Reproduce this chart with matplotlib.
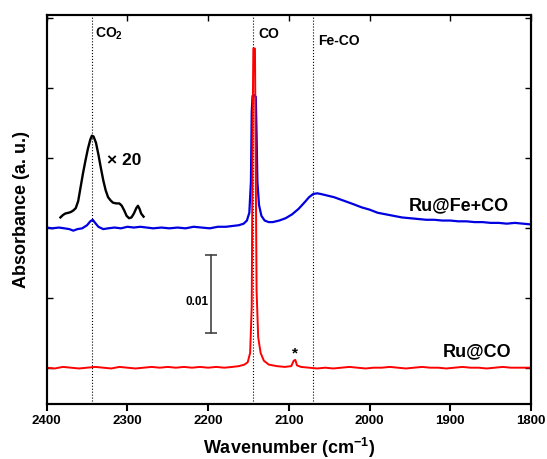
import matplotlib
matplotlib.use("Agg")
import matplotlib.pyplot as plt
from matplotlib.ticker import MultipleLocator

plt.rcParams['font.family'] = ['Liberation Sans', 'DejaVu Sans']
plt.rcParams['font.weight'] = 'bold'
plt.rcParams['axes.labelweight'] = 'bold'
plt.rcParams['mathtext.fontset'] = 'custom'
plt.rcParams['mathtext.rm'] = 'Liberation Sans:bold'
plt.rcParams['mathtext.bf'] = 'Liberation Sans:bold'
plt.rcParams['mathtext.default'] = 'bf'

# Ru@Fe+CO spectrum (offset)
fe_wn = [2400, 2393, 2385, 2378, 2372, 2367, 2362, 2356, 2350, 2346, 2343, 2340,
         2336, 2330, 2324, 2316, 2308, 2300, 2292, 2284, 2276, 2268, 2258, 2248,
         2238, 2228, 2218, 2208, 2198, 2188, 2178, 2170, 2162, 2156, 2152, 2149,
         2147, 2146, 2145, 2143, 2141, 2140, 2139, 2137, 2134, 2130, 2125, 2120,
         2112, 2104, 2096, 2088, 2080, 2075, 2070, 2065, 2060, 2052, 2044, 2036,
         2028, 2020, 2010, 2000, 1990, 1980, 1970, 1960, 1950, 1940, 1930, 1920,
         1910, 1900, 1890, 1880, 1870, 1860, 1850, 1840, 1830, 1820, 1810, 1800]
fe_abs = [0.0181, 0.0180, 0.0181, 0.0180, 0.0179, 0.0177, 0.0179, 0.0180, 0.0184,
          0.0189, 0.0191, 0.0187, 0.0182, 0.0179, 0.0180, 0.0181, 0.0180, 0.0182,
          0.0181, 0.0182, 0.0181, 0.0180, 0.0181, 0.0180, 0.0181, 0.0180, 0.0182,
          0.0181, 0.0180, 0.0182, 0.0182, 0.0183, 0.0184, 0.0186, 0.0190, 0.0200,
          0.0240, 0.0330, 0.0350, 0.0351, 0.0349, 0.0300, 0.0240, 0.0210, 0.0196,
          0.0190, 0.0188, 0.0188, 0.0190, 0.0193, 0.0198, 0.0205, 0.0214, 0.0220,
          0.0224, 0.0225, 0.0224, 0.0222, 0.0220, 0.0217, 0.0214, 0.0211, 0.0207,
          0.0204, 0.0200, 0.0198, 0.0196, 0.0194, 0.0193, 0.0192, 0.0191, 0.0191,
          0.0190, 0.0190, 0.0189, 0.0189, 0.0188, 0.0188, 0.0187, 0.0187, 0.0186,
          0.0187, 0.0186, 0.0185]

# CO2 region x20
zoom_wn = [2383, 2380, 2377, 2373, 2370, 2367, 2364, 2361, 2358, 2355, 2352, 2349,
           2346, 2344, 2342, 2339, 2336, 2333, 2330, 2327, 2324, 2321, 2318, 2314,
           2310, 2307, 2304, 2301, 2298, 2295, 2292, 2289, 2287, 2285, 2283, 2280]
zoom_abs = [0.0194, 0.0197, 0.0199, 0.0200, 0.0201, 0.0203, 0.0206, 0.0215, 0.0233,
            0.0251, 0.0267, 0.0282, 0.0294, 0.0299, 0.0298, 0.0290, 0.0275, 0.0258,
            0.0242, 0.0229, 0.0220, 0.0216, 0.0213, 0.0212, 0.0212, 0.0209, 0.0203,
            0.0196, 0.0193, 0.0194, 0.0199, 0.0206, 0.0209, 0.0205, 0.0199, 0.0195]

# Ru@CO spectrum
ru_wn = [2400, 2390, 2380, 2370, 2360, 2350, 2340, 2330, 2320, 2310, 2300, 2290,
         2280, 2270, 2260, 2250, 2240, 2230, 2220, 2210, 2200, 2190, 2180, 2170,
         2162, 2155, 2151, 2148, 2146, 2145, 2144, 2142, 2141, 2140, 2138, 2135,
         2131, 2125, 2115, 2105, 2097, 2094, 2092, 2090, 2085, 2075, 2065, 2055,
         2045, 2035, 2025, 2015, 2005, 1995, 1985, 1975, 1965, 1955, 1945, 1935,
         1925, 1915, 1905, 1895, 1885, 1875, 1865, 1855, 1845, 1835, 1825, 1815, 1800]
ru_abs = [0.0001, 0.0000, 0.0002, 0.0001, 0.0000, 0.0001, 0.0002, 0.0001, 0.0000,
          0.0002, 0.0001, 0.0000, 0.0001, 0.0002, 0.0001, 0.0002, 0.0001, 0.0002,
          0.0001, 0.0002, 0.0001, 0.0002, 0.0001, 0.0002, 0.0003, 0.0005, 0.0008,
          0.0020, 0.0080, 0.0300, 0.0411, 0.0411, 0.0250, 0.0100, 0.0040, 0.0020,
          0.0010, 0.0005, 0.0003, 0.0002, 0.0003, 0.0010, 0.0011, 0.0004, 0.0002,
          0.0001, 0.0000, 0.0001, 0.0000, 0.0001, 0.0002, 0.0001, 0.0000, 0.0001,
          0.0001, 0.0002, 0.0001, 0.0000, 0.0001, 0.0002, 0.0001, 0.0001, 0.0000,
          0.0001, 0.0002, 0.0001, 0.0001, 0.0000, 0.0001, 0.0002, 0.0001, 0.0001, 0.0001]

bands = [2344, 2145, 2070]

fig = plt.figure(figsize=(5.47, 4.59), dpi=100)
ax = fig.add_axes([0.0854, 0.1209, 0.8854, 0.8464])

for b in bands:
    ax.axvline(b, color='black', ls=':', lw=0.8)

ax.plot(fe_wn, fe_abs, color='#0000e0', lw=1.6)
ax.plot(zoom_wn, zoom_abs, color='black', lw=1.7)
ax.plot(ru_wn, ru_abs, color='#ff0000', lw=1.4)

# scale bar
ax.plot([2197, 2197], [0.0046, 0.0146], color='#444444', lw=1.2,
        marker='_', markersize=9, markeredgewidth=1.2)
ax.text(2200, 0.0086, '0.01', ha='right', va='center', fontsize=8.5)

ax.text(2340, 0.0430, 'CO$_2$', fontsize=10, va='center')
ax.text(2138, 0.0430, 'CO', fontsize=10, va='center')
ax.text(2064, 0.0421, 'Fe-CO', fontsize=10, va='center')
ax.text(2325, 0.0267, '× 20', fontsize=12.5, va='center')
ax.text(1952, 0.0209, 'Ru@Fe+CO', fontsize=13, va='center')
ax.text(1909, 0.0022, 'Ru@CO', fontsize=13, va='center')
ax.text(2093, 0.0019, '*', fontsize=11, ha='center', va='center')

ax.set_xlim(2400, 1800)
ax.set_ylim(-0.0045, 0.0454)
ax.xaxis.set_major_locator(MultipleLocator(100))
ax.yaxis.set_major_locator(MultipleLocator(0.009))
ax.tick_params(axis='x', direction='out', length=5, width=1.5, labelsize=9.5)
ax.tick_params(axis='y', direction='in', length=4, width=1, left=True, right=True,
               labelleft=False)
for lab in ax.get_xticklabels():
    lab.set_fontweight('bold')

top = ax.twiny()
top.set_xlim(ax.get_xlim())
top.xaxis.set_major_locator(MultipleLocator(100))
top.tick_params(axis='x', direction='in', length=4, width=1, labeltop=False)

for a in (ax, top):
    for s in a.spines.values():
        s.set_linewidth(1.5)

ax.set_xlabel('Wavenumber (cm$^{-1}$)', fontsize=13, fontweight='bold', labelpad=6)
ax.set_ylabel('Absorbance (a. u.)', fontsize=13, fontweight='bold', labelpad=12)

fig.savefig('out.png', dpi=100)
